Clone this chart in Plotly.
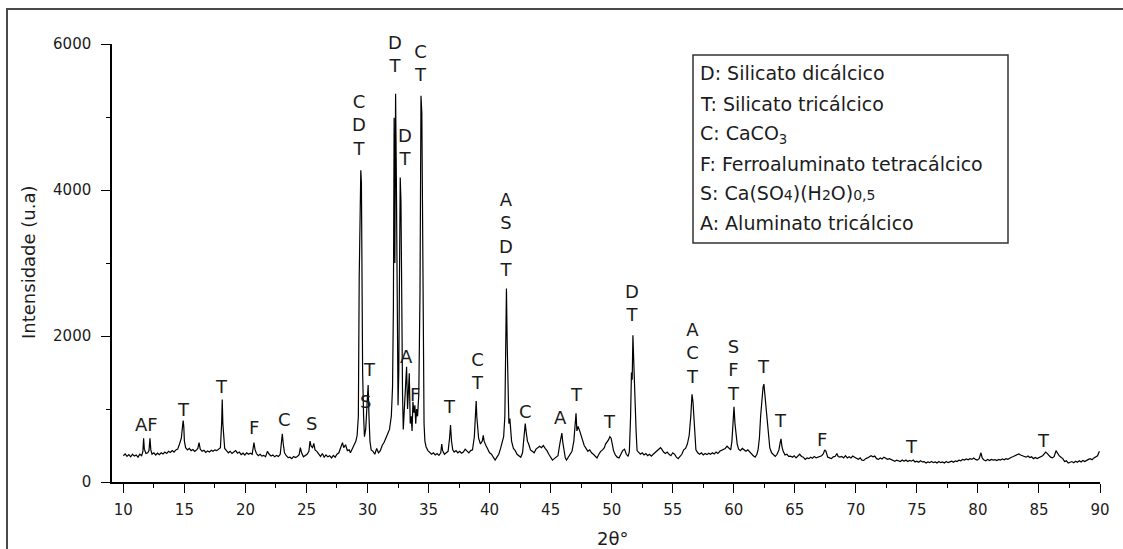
import plotly.graph_objects as go

# ---------------- data ----------------
two_theta_a = [
    10.0, 10.15, 10.3, 10.45, 10.6, 10.75, 10.9, 11.05, 11.2, 11.35,
    11.5, 11.6, 11.66, 11.72, 11.85, 12.0, 12.1, 12.18, 12.25, 12.35,
    12.5, 12.65, 12.8, 12.95, 13.1, 13.25, 13.4, 13.55, 13.7, 13.85,
    14.0, 14.15, 14.3, 14.45, 14.6, 14.75, 14.82, 14.9, 14.95, 15.0,
    15.1, 15.25, 15.4, 15.55, 15.7, 15.85, 16.0, 16.1, 16.2, 16.3,
    16.45, 16.6, 16.75, 16.9, 17.05, 17.2, 17.35, 17.5, 17.65, 17.8,
    17.95, 18.05, 18.1, 18.15, 18.22, 18.3, 18.45, 18.6, 18.75, 18.9,
    19.05, 19.2, 19.35, 19.5, 19.65, 19.8, 19.95, 20.1, 20.25, 20.4,
    20.55, 20.7, 20.78, 20.9, 21.05, 21.2, 21.35, 21.5, 21.65, 21.8,
    21.95, 22.1, 22.25, 22.4, 22.55, 22.7, 22.85, 22.95, 23.02, 23.1,
    23.2, 23.35, 23.5, 23.65, 23.8, 23.95, 24.1, 24.25, 24.4, 24.5,
    24.6, 24.75, 24.9, 25.05, 25.2, 25.29, 25.38, 25.5, 25.6, 25.7,
    25.85, 26.0, 26.15, 26.3, 26.45, 26.6, 26.75, 26.9, 27.05, 27.2,
    27.35, 27.5, 27.65, 27.8, 27.95, 28.05, 28.2, 28.35, 28.5, 28.6,
    28.75, 28.9, 29.05, 29.15,
]
intensity_a = [
    360, 385, 350, 375, 345, 380, 355, 370, 340, 380,
    360, 420, 600, 450, 390, 400, 430, 600, 440, 380,
    400, 370, 395, 375, 400, 385, 410, 390, 420, 405,
    430, 410, 440, 450, 520, 600, 720, 840, 760, 560,
    470, 440, 460, 430, 445, 420, 440, 460, 540, 450,
    420, 435, 405, 425, 410, 435, 420, 440, 430, 450,
    470, 800, 1130, 800, 560, 460, 430, 400, 420, 390,
    410, 430, 395, 410, 375, 395, 370, 400, 380, 395,
    380, 540, 450, 390, 360, 380, 355, 365, 345, 420,
    380, 355, 370, 345, 365, 350, 380, 560, 660, 520,
    400, 360, 335, 340, 320, 350, 335, 350, 375, 470,
    400, 345, 360, 380, 420, 560, 490, 470, 530, 440,
    420, 380, 350, 390, 340, 370, 345, 360, 330, 365,
    340, 380, 400, 470, 540, 470, 510, 430, 440, 400,
    460, 520, 560, 640,
]

two_theta_b = [
    29.25, 29.32, 29.4, 29.45, 29.5, 29.55, 29.6, 29.68, 29.75, 29.85,
    29.95, 30.05, 30.12, 30.2, 30.3, 30.45, 30.6, 30.75, 30.9, 31.05,
    31.2, 31.35, 31.5, 31.65, 31.8, 31.95, 32.05, 32.12, 32.18, 32.24,
    32.3, 32.36, 32.42, 32.5, 32.56, 32.62, 32.68, 32.74, 32.8, 32.87,
    32.93, 33.0, 33.1, 33.2, 33.28, 33.35, 33.42, 33.5, 33.58, 33.65,
    33.72, 33.8, 33.88, 33.95, 34.02, 34.1, 34.2, 34.3, 34.38, 34.45,
    34.5, 34.56, 34.63, 34.7, 34.8, 34.95,
]
intensity_b = [
    900, 2800, 3500, 4270, 4100, 2600, 1500, 900, 620, 720,
    1100, 1330, 900, 560, 440, 420, 380, 460, 400, 430,
    500, 540, 600, 650, 720, 900, 1300, 2400, 4990, 3000,
    5320, 4200, 2000, 1050, 1500, 2800, 4170, 3840, 2200, 1200,
    720, 1000, 1300, 1580, 1000, 1400, 1490, 800, 900, 700,
    1100, 950, 1050, 800, 1000, 900, 1200, 2600, 5290, 5050,
    3600, 1600, 800, 560, 480, 430,
]

two_theta_c = [
    35.1, 35.25, 35.4, 35.55, 35.7, 35.85, 36.0, 36.08, 36.15, 36.3,
    36.45, 36.6, 36.72, 36.8, 36.88, 36.98, 37.1, 37.25, 37.4, 37.55,
    37.7, 37.85, 38.0, 38.15, 38.3, 38.45, 38.6, 38.75, 38.85, 38.9,
    38.95, 39.02, 39.1, 39.25, 39.4, 39.48, 39.55, 39.7, 39.85, 40.0,
    40.15, 40.3, 40.45, 40.6, 40.75, 40.9, 41.05, 41.15, 41.25, 41.32,
    41.38, 41.44, 41.5, 41.58, 41.66, 41.72, 41.8, 41.95, 42.1, 42.25,
    42.4, 42.55, 42.7, 42.82, 42.92, 43.0, 43.1, 43.2, 43.35, 43.5,
    43.65, 43.8, 43.95, 44.1, 44.25, 44.4, 44.55, 44.7, 44.85, 45.0,
    45.15, 45.3, 45.45, 45.6, 45.75, 45.85, 45.92, 46.0, 46.1, 46.2,
    46.3, 46.45, 46.6, 46.75, 46.9, 47.0, 47.08, 47.15, 47.25, 47.38,
    47.5, 47.6, 47.75, 47.9, 48.05, 48.2, 48.35, 48.5, 48.65, 48.8,
    48.95, 49.1, 49.25, 49.4, 49.5, 49.6, 49.75, 49.85, 49.95, 50.05,
    50.15, 50.3, 50.45, 50.6, 50.75, 50.9, 51.05, 51.2, 51.35, 51.45,
    51.55, 51.62, 51.68, 51.74, 51.8, 51.85, 51.92, 52.0, 52.08, 52.2,
    52.35, 52.5, 52.65, 52.8, 52.95, 53.1, 53.25, 53.4, 53.55, 53.7,
    53.85, 54.0, 54.1, 54.25, 54.4, 54.55, 54.7, 54.85, 55.0, 55.15,
    55.3, 55.45, 55.6, 55.75, 55.9, 56.05, 56.2, 56.35, 56.48, 56.58,
    56.66, 56.72, 56.8, 56.9, 57.05, 57.2, 57.35, 57.5, 57.65, 57.8,
    57.95, 58.1, 58.25, 58.4, 58.55, 58.7, 58.85, 59.0, 59.15, 59.3,
    59.45, 59.6, 59.75, 59.85, 59.95, 60.02, 60.1, 60.18, 60.28, 60.4,
]
intensity_c = [
    410, 380, 400, 370, 390, 365, 400, 520, 430, 380,
    400, 420, 600, 780, 560, 440, 410, 430, 400, 420,
    395, 410, 450, 420, 400, 430, 440, 620, 1000, 1110,
    900, 760, 600, 520, 560, 640, 560, 500, 440, 400,
    380, 330, 300, 340, 380, 460, 560, 620, 900, 2450,
    2650, 1900, 1100, 800, 870, 700, 560, 460, 430, 380,
    360, 340, 400, 600, 800, 680, 560, 520, 440, 420,
    400, 450, 470, 490, 470, 500, 460, 430, 380, 330,
    300, 320, 340, 360, 520, 640, 670, 540, 400, 330,
    300, 340, 380, 420, 560, 760, 940, 700, 760, 700,
    640, 600, 500, 460, 420, 440, 400, 380, 360, 330,
    380, 420, 440, 470, 520, 540, 580, 620, 600, 520,
    430, 370, 340, 330, 380, 430, 450, 380, 350, 420,
    900, 1500, 1400, 2010, 1700, 1400, 1100, 700, 430, 400,
    380, 400, 370, 390, 360, 380, 355, 380, 400, 420,
    440, 470, 450, 410, 390, 410, 380, 360, 400, 380,
    340, 320, 350, 380, 440, 460, 520, 640, 900, 1200,
    1100, 900, 600, 440, 400, 380, 400, 370, 390, 375,
    395, 380, 400, 385, 410, 390, 420, 430, 440, 460,
    490, 470, 440, 560, 900, 1030, 800, 700, 520, 450,
]

two_theta_d = [
    60.55, 60.7, 60.85, 61.0, 61.15, 61.3, 61.45, 61.6, 61.75, 61.9,
    62.0, 62.1, 62.2, 62.3, 62.4, 62.47, 62.55, 62.65, 62.75, 62.85,
    62.95, 63.1, 63.25, 63.4, 63.55, 63.7, 63.8, 63.87, 63.95, 64.05,
    64.2, 64.35, 64.5, 64.65, 64.8, 64.95, 65.1, 65.25, 65.4, 65.55,
    65.7, 65.85, 66.0, 66.15, 66.3, 66.45, 66.6, 66.75, 66.9, 67.05,
    67.2, 67.35, 67.45, 67.55, 67.7, 67.85, 68.0, 68.15, 68.3, 68.45,
    68.55, 68.7, 68.85, 69.0, 69.15, 69.3, 69.45, 69.6, 69.75, 69.9,
    70.05, 70.2, 70.35, 70.5, 70.65, 70.8, 70.95, 71.1, 71.25, 71.4,
    71.55, 71.7, 71.85, 72.0, 72.15, 72.3, 72.45, 72.6, 72.75, 72.9,
    73.05, 73.2, 73.35, 73.5, 73.65, 73.8, 73.95, 74.1, 74.25, 74.4,
    74.55, 74.7, 74.85, 75.0, 75.15, 75.3, 75.45, 75.6, 75.75, 75.9,
    76.05, 76.2, 76.35, 76.5, 76.65, 76.8, 76.95, 77.1, 77.25, 77.4,
    77.55, 77.7, 77.85, 78.0, 78.15, 78.3, 78.45, 78.6, 78.75, 78.9,
    79.05, 79.2, 79.35, 79.5, 79.65, 79.8, 79.95, 80.1, 80.25, 80.35,
    80.5, 80.65, 80.8, 80.95, 81.1, 81.25, 81.4, 81.55, 81.7, 81.85,
    82.0, 82.15, 82.3, 82.45, 82.6, 82.75, 82.9, 83.05, 83.2, 83.35,
    83.5, 83.65, 83.8, 83.95, 84.1, 84.25, 84.4, 84.55, 84.7, 84.85,
    85.0, 85.15, 85.3, 85.45, 85.55, 85.65, 85.8, 85.95, 86.1, 86.25,
    86.4, 86.5, 86.65, 86.8, 86.95, 87.1, 87.25, 87.4, 87.55, 87.7,
    87.85, 88.0, 88.15, 88.3, 88.45, 88.6, 88.75, 88.9, 89.05, 89.2,
    89.35, 89.5, 89.65, 89.8, 89.95,
]
intensity_d = [
    430, 460, 440, 420, 440, 410, 390, 360, 340, 380,
    450, 600, 900, 1150, 1300, 1340, 1200, 950, 760, 600,
    470, 400, 370, 350, 380, 440, 540, 590, 480, 420,
    370, 380, 350, 355, 340, 360, 330, 360, 380, 350,
    340, 310, 330, 320, 340, 325, 350, 330, 340, 340,
    360, 390, 440, 420, 340, 330, 320, 345, 350, 390,
    350, 340, 350, 330, 360, 330, 345, 330, 355, 340,
    320, 310, 330, 300, 295, 320, 330, 350, 360, 345,
    355, 320, 310, 330, 315, 340, 330, 310, 320, 305,
    300, 285, 300, 290, 280, 300, 285, 300, 280, 295,
    285, 300, 275, 285, 270, 290, 275, 280, 260, 275,
    265, 280, 265, 275, 260, 280, 265, 275, 260, 280,
    265, 275, 285, 270, 290, 280, 300, 290, 310, 300,
    315, 305, 320, 310, 330, 310, 300, 320, 400, 330,
    300, 290, 310, 295, 310, 300, 305, 295, 310, 300,
    315, 305, 320, 310, 330, 340, 350, 360, 370, 385,
    370, 355, 350, 340, 355, 335, 345, 320, 335, 320,
    330, 340, 360, 390, 410, 395, 360, 340, 330, 350,
    430, 400, 360, 340, 320, 280, 290, 260, 275, 280,
    265, 285, 270, 290, 275, 295, 280, 300, 310, 320,
    305, 330, 340, 360, 420,
]

# phase labels above the peaks
peak_labels = ["AF", "T", "T", "F", "C", "S", "C<br>D<br>T", "S", "T",
               "D<br>T", "D<br>T", "C<br>T", "A", "F", "T", "C<br>T",
               "A<br>S<br>D<br>T", "C", "A", "T", "T", "D<br>T",
               "A<br>C<br>T", "S<br>F<br>T", "T", "T", "F", "T", "T"]
label_theta = [11.86, 14.89, 18.0, 20.7, 23.16, 25.45, 29.3, 29.8, 30.2,
               32.25, 33.07, 34.38, 33.23, 33.89, 36.68, 38.97,
               41.35, 42.9, 45.77, 47.08, 49.86, 51.66,
               56.66, 60.0, 62.46, 63.86, 67.22, 74.58, 85.39]
label_intensity = [781, 1000, 1315, 740, 863, 795, 4891, 1096, 1548,
                   5857, 4583, 5733, 1726, 1192, 1041, 1521,
                   3384, 959, 877, 1192, 822, 2452,
                   1767, 1541, 1576, 836, 589, 493, 575]

legend_lines = [
    "D: Silicato dicálcico",
    "T: Silicato tricálcico",
    "C: CaCO<sub>3</sub>",
    "F: Ferroaluminato tetracálcico",
    "S: Ca(SO<span style='font-size:14px'>4</span>)(H<span style='font-size:14px'>2</span>O)<span style='font-size:14px'>0,5</span>",
    "A: Aluminato tricálcico",
]

x_ticks = list(range(10, 91, 5))
y_ticks = [0, 2000, 4000, 6000]

two_theta = two_theta_a + two_theta_b + two_theta_c + two_theta_d
intensity = intensity_a + intensity_b + intensity_c + intensity_d
assert len(two_theta) == len(intensity), (len(two_theta), len(intensity))

# ---------------- layout geometry ----------------
FIG_W, FIG_H = 1123, 549
M_L, M_R, M_T, M_B = 112, 23, 44, 67
PW = FIG_W - M_L - M_R
PH = FIG_H - M_T - M_B


def px_x(p):
    return (p - M_L) / PW


def px_y(p):
    return (FIG_H - M_B - p) / PH


FONT = "DejaVu Sans, Arial, sans-serif"
TXT = "#1c1c1c"

fig = go.Figure()
fig.add_trace(go.Scatter(
    x=two_theta, y=intensity, mode="lines",
    line=dict(color="black", width=1.2),
    hoverinfo="skip", showlegend=False,
))

annotations = []
for txt, xv, yv in zip(peak_labels, label_theta, label_intensity):
    annotations.append(dict(
        x=xv, y=yv, xref="x", yref="y", text=txt, showarrow=False,
        xanchor="center", yanchor="middle",
        font=dict(family=FONT, size=18, color=TXT),
    ))

legend_y_px = [73, 104, 134, 164, 193, 223]
for txt, ypx in zip(legend_lines, legend_y_px):
    annotations.append(dict(
        x=px_x(698), y=px_y(ypx), xref="paper", yref="paper", text=txt,
        showarrow=False, xanchor="left", yanchor="middle",
        font=dict(family=FONT, size=19, color=TXT),
    ))

annotations.append(dict(
    x=px_x(28), y=px_y(262), xref="paper", yref="paper",
    text="Intensidade (u.a)", showarrow=False, textangle=-90,
    xanchor="center", yanchor="middle",
    font=dict(family=FONT, size=18, color=TXT),
))
annotations.append(dict(
    x=px_x(612), y=px_y(538), xref="paper", yref="paper",
    text="2θ°", showarrow=False, xanchor="center", yanchor="middle",
    font=dict(family=FONT, size=18, color=TXT),
))

shapes = [
    # outer frame of the picture
    dict(type="rect", xref="paper", yref="paper",
         x0=px_x(7), x1=px_x(1140), y0=px_y(570), y1=px_y(9),
         line=dict(color="#4a4a4a", width=2), fillcolor="rgba(0,0,0,0)",
         layer="above"),
    # legend box
    dict(type="rect", xref="paper", yref="paper",
         x0=px_x(693), x1=px_x(1008), y0=px_y(243), y1=px_y(55),
         line=dict(color="#333333", width=1.5), fillcolor="rgba(0,0,0,0)",
         layer="above"),
]

fig.update_layout(
    width=FIG_W, height=FIG_H,
    margin=dict(l=M_L, r=M_R, t=M_T, b=M_B, pad=0),
    paper_bgcolor="white", plot_bgcolor="white",
    showlegend=False, hovermode=False,
    annotations=annotations, shapes=shapes,
    xaxis=dict(
        range=[9.07, 90], tickmode="array", tickvals=x_ticks,
        ticks="outside", ticklen=9, tickwidth=1.2, tickcolor="black",
        showline=True, linecolor="black", linewidth=1.5,
        showgrid=False, zeroline=False, ticklabelstandoff=4,
        tickfont=dict(family=FONT, size=15, color=TXT),
        minor=dict(dtick=2.5, tick0=10, ticks="outside", ticklen=4,
                   tickwidth=1, tickcolor="black", showgrid=False),
    ),
    yaxis=dict(
        range=[0, 6000], tickmode="array", tickvals=y_ticks,
        ticks="outside", ticklen=9, tickwidth=1.2, tickcolor="black",
        showline=True, linecolor="black", linewidth=1.5,
        showgrid=False, zeroline=False, ticklabelstandoff=7,
        tickfont=dict(family=FONT, size=15, color=TXT),
        minor=dict(dtick=1000, tick0=0, ticks="outside", ticklen=4,
                   tickwidth=1, tickcolor="black", showgrid=False),
    ),
)

fig.write_html("out.html")
